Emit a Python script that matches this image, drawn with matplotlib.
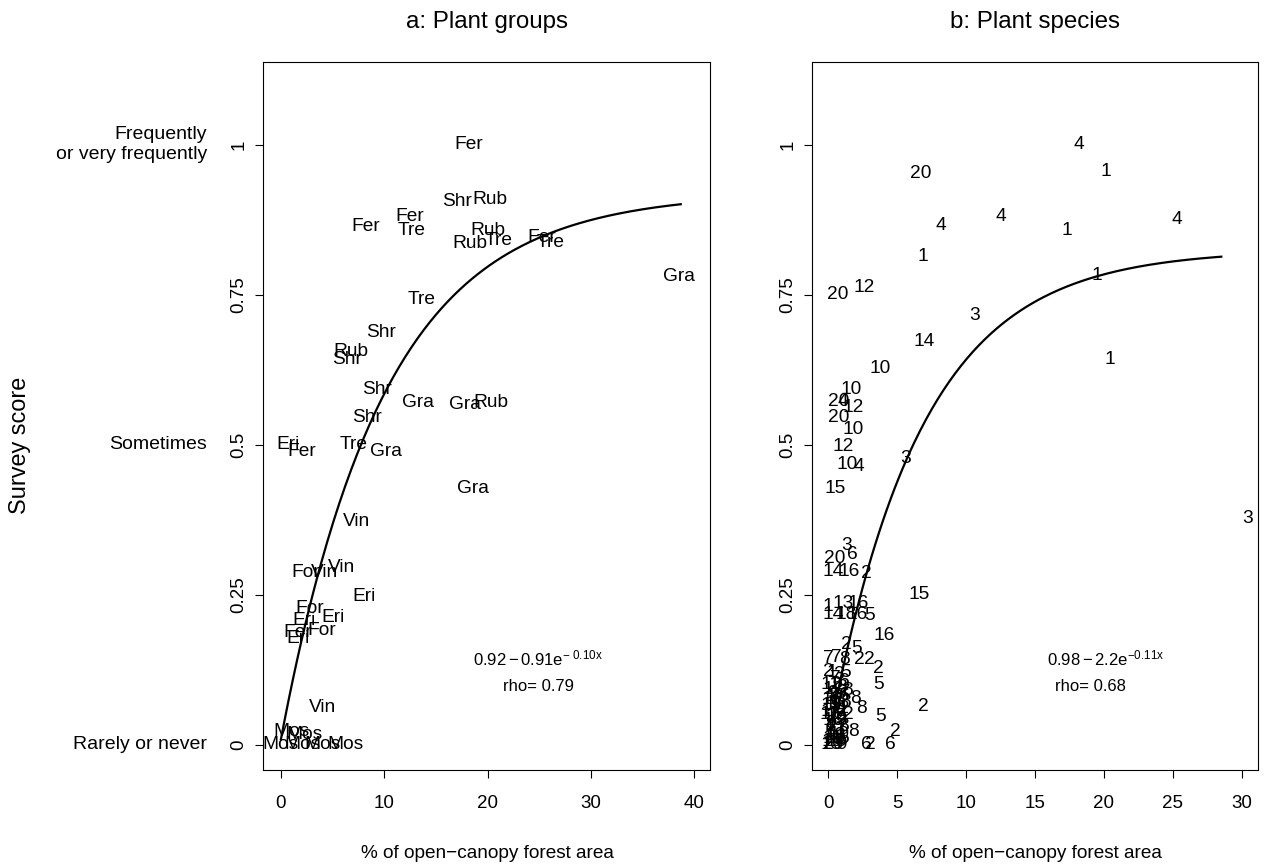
import numpy as np
import matplotlib
matplotlib.use("Agg")
from matplotlib import pyplot as plt
from matplotlib.transforms import blended_transform_factory

plt.rcParams['font.family'] = ['Liberation Sans', 'DejaVu Sans']
plt.rcParams['mathtext.fontset'] = 'custom'
plt.rcParams['mathtext.rm'] = 'Liberation Sans'
plt.rcParams['mathtext.it'] = 'Liberation Sans:italic'
plt.rcParams['mathtext.default'] = 'regular'

# panel a: plant groups (label, % open canopy, survey score)
group_labels = ["Fer", "Shr", "Rub", "Fer", "Fer", "Tre", "Rub", "Rub", "Tre", "Fer", "Tre",
                "Gra", "Tre", "Shr", "Rub", "Shr", "Shr", "Gra", "Gra", "Rub", "Shr", "Eri",
                "Fer", "Tre", "Gra", "Gra", "Vin", "Vin", "For", "Vin", "Eri", "For", "Eri",
                "Eri", "Fer", "For", "Eri", "Vin", "Mos", "Mos", "Mos", "Mos", "Mos", "Mos"]
group_x = [18.2, 17.0, 20.2, 8.2, 12.5, 12.6, 20.0, 18.3, 21.1, 25.2, 26.1,
           38.5, 13.6, 9.7, 6.8, 6.4, 9.3, 13.3, 17.8, 20.3, 8.3, 0.7,
           2.0, 7.0, 10.2, 18.6, 7.3, 5.9, 2.4, 4.2, 8.0, 2.8, 5.0,
           2.2, 1.6, 3.9, 1.6, 4.0, 1.0, 2.3, 0.0, 2.1, 4.0, 6.2]
group_y = [1.0, 0.905, 0.909, 0.864, 0.88, 0.857, 0.858, 0.835, 0.84, 0.846, 0.837,
           0.78, 0.742, 0.688, 0.656, 0.642, 0.592, 0.57, 0.567, 0.57, 0.546, 0.5,
           0.489, 0.5, 0.489, 0.428, 0.372, 0.295, 0.287, 0.287, 0.247, 0.228, 0.212,
           0.208, 0.188, 0.19, 0.178, 0.062, 0.022, 0.017, 0.0, 0.0, 0.0, 0.0]

# panel b: plant species
species_labels = ["4", "1", "20", "4", "4", "1", "4", "1", "1", "20", "12", "3", "14", "10",
                  "1", "3", "15", "16", "2", "2", "6", "10", "20", "4", "12", "20", "10",
                  "12", "10", "4", "3", "15", "3", "20", "6", "14", "16", "2", "1", "13",
                  "16", "14", "18", "16", "5", "2", "5", "7", "7", "8", "2", "2", "2", "5",
                  "8", "8", "5", "2", "8", "6", "2",
                  "2", "1", "3", "6", "5", "11", "2", "8", "9", "17", "6", "19", "13", "8",
                  "11", "18", "2", "9", "17", "5", "19", "8", "13", "18", "9", "11", "6", "2",
                  "13", "17", "19", "11", "18", "9", "13", "17", "19", "11", "18", "9",
                  "5", "7", "3", "6", "8", "2"]
species_x = [18.2, 20.1, 6.7, 12.5, 8.2, 17.3, 25.3, 6.9, 19.5, 0.7, 2.6, 10.6, 7.0, 3.8,
             20.4, 30.4, 6.6, 4.1, 4.9, 6.9, 4.5, 1.7, 0.75, 1.1, 1.8, 0.75, 1.8,
             1.1, 1.35, 2.2, 5.6, 0.5, 1.35, 0.5, 1.8, 0.4, 1.5, 2.75, 0.0, 1.1,
             2.2, 0.4, 1.35, 2.1, 3.0, 1.3, 2.1, 0.0, 0.6, 1.2, 2.3, 3.0, 3.65, 3.65,
             2.0, 2.45, 3.8, 1.45, 1.85, 2.75, 3.1,
             0.0, 0.3, 0.8, 1.2, 1.3, 0.2, 0.6, 1.0, 0.3, 0.6, 1.2, 0.2, 0.8, 1.3,
             0.1, 0.6, 1.0, 0.2, 0.7, 0.1, 0.5, 1.1, 0.2, 0.6, 1.0, 0.3, 0.9, 0.0,
             0.4, 0.9, 0.3, 0.8, 0.4, 0.9, 0.5, 0.2, 0.8, 0.5, 0.3, 0.7,
             1.1, 0.5, 1.0, 0.9, 1.4, 0.3]
species_y = [1.0, 0.956, 0.952, 0.88, 0.865, 0.858, 0.876, 0.814, 0.783, 0.751, 0.763, 0.715, 0.673, 0.628,
             0.643, 0.377, 0.25, 0.182, 0.022, 0.064, 0.0, 0.592, 0.572, 0.572, 0.562, 0.545, 0.525,
             0.498, 0.467, 0.464, 0.478, 0.428, 0.333, 0.311, 0.317, 0.289, 0.289, 0.286, 0.231, 0.236,
             0.236, 0.217, 0.217, 0.217, 0.215, 0.167, 0.161, 0.144, 0.145, 0.142, 0.142, 0.142, 0.128, 0.1,
             0.078, 0.061, 0.047, 0.05, 0.022, 0.0, 0.0,
             0.122, 0.12, 0.118, 0.105, 0.12, 0.1, 0.1, 0.095, 0.085, 0.08, 0.082, 0.065, 0.07, 0.07,
             0.05, 0.048, 0.055, 0.035, 0.03, 0.02, 0.015, 0.03, 0.0, 0.005, 0.0, 0.01, 0.012, 0.0,
             0.092, 0.088, 0.075, 0.06, 0.04, 0.042, 0.025, 0.055, 0.018, 0.068, 0.005, 0.0,
             0.01, 0.11, 0.04, 0.06, 0.09, 0.03]

# fitted curves y = a - b*exp(-c*x), drawn from x0 to x1
fit_a = (0.92, 0.91, 0.10, 0.0, 38.7)
fit_b = (0.825, 0.82, 0.15, 0.3, 28.5)

W, H = 1267, 865
fig = plt.figure(figsize=(W / 100, H / 100), dpi=100)
ax1 = fig.add_axes([263 / W, 1 - 770 / H, (710 - 263) / W, (770 - 62) / H])
ax2 = fig.add_axes([812 / W, 1 - 770 / H, (1258 - 812) / W, (770 - 62) / H])

lab_fs = 13.8
for ax, labs, xs, ys, fit in [(ax1, group_labels, group_x, group_y, fit_a),
                               (ax2, species_labels, species_x, species_y, fit_b)]:
    for t, x, y in zip(labs, xs, ys):
        ax.text(x, y, t, ha='center', va='center', fontsize=lab_fs)
    a, b, c, x0, x1 = fit
    xx = np.linspace(x0, x1, 200)
    ax.plot(xx, a - b * np.exp(-c * xx), color='black', lw=1.6)
    ax.set_ylim(-0.0417, 1.138)
    ax.set_yticks([0, 0.25, 0.5, 0.75, 1])
    ax.set_yticklabels(['0', '0.25', '0.5', '0.75', '1'], rotation=90, va='center')
    ax.tick_params(length=6, width=0.8, labelsize=13.5, direction='out')
    ax.tick_params(axis='y', pad=5)
    ax.tick_params(axis='x', pad=12)
    for s in ax.spines.values():
        s.set_linewidth(0.8)

ax1.set_xlim(-1.74, 41.53)
ax1.set_xticks([0, 10, 20, 30, 40])
ax2.set_xlim(-1.16, 31.16)
ax2.set_xticks([0, 5, 10, 15, 20, 25, 30])

# formula annotations
ax1.text(24.9, 0.145, r'$0.92 - 0.91e^{-\ 0.10x}$', ha='center', va='center', fontsize=12)
ax1.text(24.9, 0.098, 'rho= 0.79', ha='center', va='center', fontsize=12)
ax2.text(20.1, 0.145, r'$0.98 - 2.2e^{-0.11x}$', ha='center', va='center', fontsize=12)
ax2.text(19.0, 0.098, 'rho= 0.68', ha='center', va='center', fontsize=12)

# verbal score labels left of panel a
tr = blended_transform_factory(ax1.transAxes, ax1.transData)
xoff = (207 - 263) / (710 - 263)
ax1.text(xoff, 1.0, 'Frequently\nor very frequently', transform=tr, ha='right', va='center',
         fontsize=14, linespacing=1.25)
ax1.text(xoff, 0.5, 'Sometimes', transform=tr, ha='right', va='center', fontsize=14)
ax1.text(xoff, 0.0, 'Rarely or never', transform=tr, ha='right', va='center', fontsize=14)

fig.text(487 / W, 1 - 22 / H, 'a: Plant groups', ha='center', va='center', fontsize=17.4)
fig.text(1035 / W, 1 - 22 / H, 'b: Plant species', ha='center', va='center', fontsize=17.4)
fig.text(487 / W, 1 - 853 / H, '% of open\u2212canopy forest area', ha='center', va='center', fontsize=13.7)
fig.text(1035 / W, 1 - 853 / H, '% of open\u2212canopy forest area', ha='center', va='center', fontsize=13.7)
fig.text(20 / W, 1 - 445 / H, 'Survey score', ha='center', va='center', rotation=90, fontsize=16.9)

fig.savefig('out.png', dpi=100)
